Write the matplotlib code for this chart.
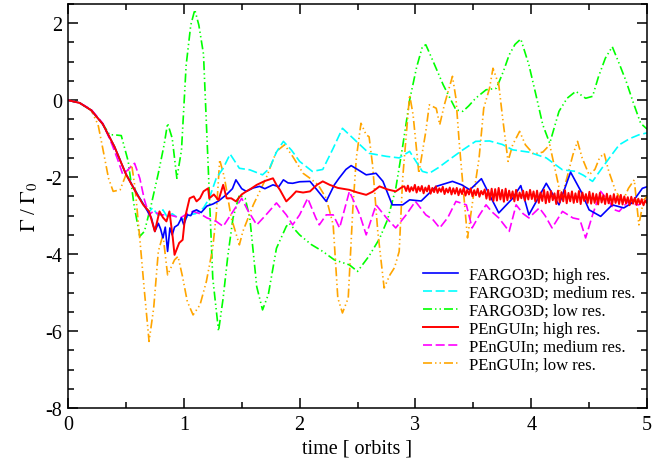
import numpy as np
import matplotlib
matplotlib.use("Agg")
import matplotlib.pyplot as plt
from matplotlib.ticker import MultipleLocator

plt.rcParams['font.family'] = ['Liberation Serif', 'DejaVu Serif']
plt.rcParams['mathtext.fontset'] = 'stix'
plt.rcParams['axes.unicode_minus'] = False
plt.rcParams['lines.scale_dashes'] = False

# ---------------- data ----------------
labels = ["FARGO3D; high res.", "FARGO3D; medium res.", "FARGO3D; low res.",
          "PEnGUIn; high res.", "PEnGUIn; medium res.", "PEnGUIn; low res."]

blue_t = [0.00, 0.10, 0.20, 0.30, 0.40, 0.50, 0.60, 0.65, 0.70, 0.72,
          0.75, 0.78, 0.80, 0.82, 0.84, 0.86, 0.88, 0.90, 0.92, 0.95,
          0.98, 1.00, 1.03, 1.06, 1.08, 1.11, 1.15, 1.20, 1.25, 1.30,
          1.37, 1.42, 1.45, 1.50, 1.54, 1.60, 1.655, 1.70, 1.77, 1.82,
          1.86, 1.90, 1.94, 2.00, 2.09, 2.15, 2.23, 2.30, 2.34, 2.40,
          2.445, 2.50, 2.575, 2.66, 2.72, 2.80, 2.89, 2.95, 3.05, 3.18,
          3.32, 3.40, 3.47, 3.57, 3.64, 3.72, 3.84, 3.91, 3.98, 4.05,
          4.13, 4.24, 4.34, 4.43, 4.50, 4.60, 4.70, 4.80, 4.87, 4.96,
          5.00]
blue_v = [0.00, -0.07, -0.26, -0.62, -1.20, -1.92, -2.45, -2.70, -2.95, -3.06,
          -3.41, -3.20, -3.35, -3.58, -3.30, -3.93, -3.32, -3.50, -3.30, -3.24,
          -3.06, -3.24, -2.98, -3.00, -2.89, -2.85, -2.92, -2.75, -2.70, -2.62,
          -2.45, -2.30, -2.07, -2.30, -2.37, -2.28, -2.24, -2.30, -2.20, -2.25,
          -2.07, -2.15, -2.16, -2.12, -2.11, -2.33, -2.63, -2.20, -2.03, -1.80,
          -1.70, -1.80, -1.94, -1.90, -2.11, -2.72, -2.72, -2.59, -2.62, -2.24,
          -2.11, -2.20, -2.33, -2.04, -2.46, -2.93, -2.55, -2.22, -2.98, -2.60,
          -2.16, -2.72, -1.87, -2.37, -2.85, -3.02, -2.72, -2.80, -2.67, -2.29,
          -2.25]

cyan_t = [0.00, 0.10, 0.20, 0.30, 0.40, 0.50, 0.60, 0.65, 0.70, 0.73,
          0.78, 0.82, 0.86, 0.90, 0.95, 1.00, 1.05, 1.10, 1.17, 1.22,
          1.28, 1.34, 1.40, 1.48, 1.57, 1.68, 1.74, 1.80, 1.86, 1.93,
          2.00, 2.11, 2.20, 2.29, 2.37, 2.49, 2.60, 2.75, 2.86, 2.95,
          3.06, 3.12, 3.20, 3.29, 3.41, 3.52, 3.64, 3.75, 3.84, 3.98,
          4.13, 4.27, 4.385, 4.45, 4.53, 4.61, 4.70, 4.76, 4.85, 4.93,
          5.00]
cyan_v = [0.00, -0.07, -0.26, -0.62, -1.20, -1.92, -2.45, -2.70, -2.90, -2.80,
          -3.00, -2.85, -3.05, -2.95, -3.06, -3.10, -2.98, -2.95, -2.80, -2.55,
          -2.03, -1.77, -1.40, -1.77, -1.81, -1.94, -1.77, -1.35, -1.07, -1.30,
          -1.59, -1.85, -1.80, -1.25, -0.73, -1.07, -1.38, -1.46, -1.50, -1.33,
          -1.85, -1.90, -1.75, -1.55, -1.29, -1.07, -1.06, -1.15, -1.29, -1.35,
          -1.50, -1.81, -1.85, -1.95, -2.11, -1.77, -1.40, -1.16, -1.00, -0.90,
          -0.85]

green_t = [0.00, 0.10, 0.20, 0.30, 0.36, 0.40, 0.46, 0.52, 0.57, 0.62,
           0.66, 0.72, 0.78, 0.83, 0.86, 0.90, 0.94, 0.98, 1.02, 1.06,
           1.095, 1.13, 1.17, 1.21, 1.25, 1.30, 1.34, 1.38, 1.425, 1.48,
           1.53, 1.57, 1.63, 1.68, 1.73, 1.80, 1.885, 1.91, 2.00, 2.10,
           2.20, 2.30, 2.43, 2.50, 2.60, 2.69, 2.76, 2.83, 2.89, 2.95,
           3.01, 3.06, 3.09, 3.14, 3.24, 3.35, 3.41, 3.46, 3.52, 3.61,
           3.70, 3.76, 3.81, 3.86, 3.91, 3.98, 4.04, 4.10, 4.16, 4.24,
           4.31, 4.385, 4.47, 4.53, 4.58, 4.64, 4.70, 4.76, 4.82, 4.88,
           4.945, 5.00]
green_v = [0.00, -0.07, -0.26, -0.62, -0.90, -0.90, -0.92, -1.59, -2.72, -3.54,
           -3.41, -2.70, -1.90, -1.16, -0.60, -0.99, -2.03, -1.30, 0.90, 1.95,
           2.35, 1.95, 1.20, -1.68, -4.62, -6.00, -5.14, -4.05, -3.06, -2.46,
           -2.55, -3.06, -4.85, -5.45, -5.05, -3.85, -3.28, -3.20, -3.50, -3.75,
           -3.93, -4.15, -4.28, -4.45, -4.05, -3.60, -3.10, -2.30, -1.20, 0.00,
           0.85, 1.39, 1.44, 1.10, 0.40, -0.25, -0.29, -0.15, 0.05, 0.27,
           0.31, 0.75, 1.18, 1.45, 1.59, 0.92, 0.15, -0.64, -1.12, -0.29,
           0.05, 0.23, 0.05, 0.10, 0.60, 1.09, 1.39, 0.95, 0.49, -0.05,
           -0.60, -0.75]

red_t = [0.00, 0.10, 0.20, 0.30, 0.40, 0.50, 0.60, 0.65, 0.70, 0.75,
         0.79, 0.82, 0.85, 0.876, 0.905, 0.92, 0.96, 0.99, 1.01, 1.05,
         1.086, 1.11, 1.14, 1.17, 1.21, 1.22, 1.26, 1.30, 1.34, 1.37,
         1.41, 1.45, 1.50, 1.54, 1.58, 1.63, 1.70, 1.77, 1.80, 1.83,
         1.885, 1.93, 1.97, 2.03, 2.09, 2.15, 2.20, 2.26, 2.33, 2.43,
         2.50, 2.575, 2.63, 2.69, 2.76, 2.83, 2.89]
red_v = [0.00, -0.07, -0.26, -0.62, -1.20, -1.92, -2.47, -2.72, -2.89, -3.41,
         -2.89, -3.05, -3.15, -2.89, -3.58, -4.02, -3.71, -3.63, -3.06, -2.55,
         -2.50, -2.63, -2.55, -2.37, -2.29, -2.55, -2.45, -2.60, -2.20, -2.55,
         -2.55, -2.63, -2.45, -2.37, -2.30, -2.20, -2.10, -2.03, -2.20, -2.33,
         -2.63, -2.50, -2.37, -2.40, -2.37, -2.20, -2.11, -2.20, -2.28, -2.33,
         -2.40, -2.46, -2.38, -2.24, -2.32, -2.37, -2.25]
# rapidly oscillating tail of the high-res PEnGUIn run (t = 2.905 ... 5.0)
red_tail_v = [-2.24, -2.36, -2.22, -2.38, -2.26, -2.35, -2.20, -2.40, -2.25, -2.36,
              -2.23, -2.42, -2.27, -2.37, -2.22, -2.43, -2.28, -2.39, -2.24, -2.41,
              -2.29, -2.38, -2.25, -2.44, -2.30, -2.40, -2.27,
              -2.45, -2.29, -2.43, -2.28, -2.47, -2.31, -2.44, -2.27, -2.48, -2.33,
              -2.45, -2.29, -2.50, -2.34, -2.47, -2.30, -2.51, -2.36, -2.45, -2.32,
              -2.56, -2.33, -2.59, -2.30, -2.62, -2.31, -2.61, -2.28, -2.58, -2.33,
              -2.64, -2.30, -2.60, -2.35, -2.56, -2.37, -2.63, -2.33, -2.60, -2.40,
              -2.55, -2.35, -2.61, -2.38, -2.58, -2.33, -2.57,
              -2.37, -2.63, -2.35, -2.67, -2.40, -2.62, -2.33, -2.68, -2.38, -2.65,
              -2.36, -2.60, -2.42, -2.70, -2.35, -2.66, -2.39, -2.63, -2.34, -2.68,
              -2.41, -2.63, -2.37, -2.67, -2.42, -2.65, -2.36, -2.70, -2.40, -2.62,
              -2.44, -2.67, -2.38,
              -2.69, -2.42, -2.67, -2.44, -2.71, -2.41, -2.66, -2.47, -2.70, -2.43,
              -2.68, -2.48, -2.72, -2.44, -2.67, -2.49, -2.70, -2.46, -2.71, -2.50,
              -2.68, -2.52, -2.73, -2.51, -2.69, -2.54, -2.72, -2.56, -2.70, -2.57,
              -2.73, -2.61, -2.67]
red_tail_start, red_tail_end = 2.905, 5.0

mag_t = [0.00, 0.10, 0.20, 0.30, 0.38, 0.43, 0.474, 0.52, 0.575, 0.62,
         0.66, 0.70, 0.735, 0.80, 0.85, 0.90, 0.97, 1.03, 1.08, 1.14,
         1.20, 1.28, 1.34, 1.425, 1.50, 1.55, 1.63, 1.71, 1.80, 1.885,
         1.94, 2.00, 2.07, 2.14, 2.17, 2.23, 2.29, 2.345, 2.43, 2.52,
         2.575, 2.66, 2.75, 2.83, 2.92, 3.00, 3.09, 3.15, 3.21, 3.28,
         3.35, 3.44, 3.49, 3.55, 3.61, 3.66, 3.72, 3.81, 3.87, 3.93,
         3.98, 4.07, 4.12, 4.18, 4.27, 4.36, 4.42, 4.47, 4.53, 4.60,
         4.67, 4.72, 4.76, 4.80, 4.84, 4.88, 4.93, 4.97, 5.00]
mag_v = [0.00, -0.07, -0.24, -0.60, -1.15, -1.55, -1.94, -1.80, -1.64, -2.03,
         -2.59, -2.98, -2.89, -2.98, -2.98, -3.00, -3.06, -2.95, -2.89, -2.95,
         -3.06, -3.15, -3.28, -2.89, -2.55, -2.85, -3.24, -2.98, -2.67, -2.98,
         -3.24, -2.98, -2.55, -3.06, -3.24, -2.98, -2.98, -3.32, -2.37, -2.98,
         -3.50, -2.72, -3.06, -3.32, -2.98, -2.63, -2.98, -3.10, -3.32, -3.05,
         -2.63, -2.72, -3.32, -3.00, -2.72, -2.90, -3.06, -3.41, -2.72, -2.95,
         -3.06, -2.80, -3.00, -3.32, -2.89, -3.06, -3.10, -3.58, -2.98, -2.37,
         -2.63, -2.85, -2.89, -2.75, -2.63, -2.70, -2.72, -2.60, -2.60]

orange_t = [0.00, 0.10, 0.20, 0.26, 0.30, 0.35, 0.39, 0.45, 0.50, 0.55,
            0.58, 0.62, 0.66, 0.70, 0.74, 0.78, 0.82, 0.86, 0.92, 0.95,
            0.99, 1.03, 1.08, 1.14, 1.195, 1.25, 1.28, 1.31, 1.35, 1.41,
            1.48, 1.51, 1.60, 1.71, 1.80, 1.87, 1.94, 2.03, 2.09, 2.16,
            2.23, 2.29, 2.33, 2.37, 2.42, 2.46, 2.49, 2.53, 2.575, 2.60,
            2.63, 2.675, 2.73, 2.78, 2.82, 2.86, 2.89, 2.95, 2.98, 3.03,
            3.09, 3.12, 3.18, 3.21, 3.25, 3.32, 3.35, 3.38, 3.45, 3.49,
            3.55, 3.59, 3.64, 3.67, 3.72, 3.75, 3.80, 3.84, 3.90, 3.95,
            4.02, 4.10, 4.16, 4.21, 4.26, 4.31, 4.36, 4.40, 4.44, 4.50,
            4.55, 4.59, 4.63, 4.67, 4.73, 4.79, 4.84, 4.89, 4.93, 4.97,
            5.00]
orange_v = [0.00, -0.07, -0.26, -0.64, -1.25, -2.03, -2.37, -2.33, -1.94, -1.68,
            -2.30, -3.60, -4.97, -6.27, -5.40, -3.93, -3.50, -4.54, -4.15, -4.06,
            -4.60, -5.23, -5.58, -5.32, -4.71, -3.84, -2.98, -1.55, -2.00, -3.06,
            -3.76, -3.41, -2.72, -2.03, -1.33, -1.16, -1.46, -1.90, -2.03, -2.20,
            -2.55, -3.24, -5.14, -5.53, -5.14, -2.80, -1.50, -0.60, -0.90, -0.95,
            -1.68, -3.41, -4.88, -4.54, -4.35, -3.93, -2.03, 0.14, -0.38, -1.90,
            -0.81, -0.12, -0.21, -0.64, -0.12, 0.62, 0.05, -1.16, -3.58, -2.72,
            -1.50, -0.21, 0.31, 0.83, 0.40, -0.38, -1.59, -1.16, -0.81, -1.16,
            -1.40, -1.35, -1.16, -1.85, -2.55, -2.00, -1.42, -1.07, -1.50, -1.94,
            -1.80, -1.50, -1.38, -1.85, -2.37, -2.63, -2.29, -2.07, -3.24, -2.60,
            -2.50]

x_ticks = [0, 1, 2, 3, 4, 5]
y_ticks = [-8, -6, -4, -2, 0, 2]

# ---------------- figure ----------------
fig = plt.figure(figsize=(6.52, 4.64), dpi=100)
ax = fig.add_axes([68 / 652, 1 - 409 / 464, 579 / 652, 404 / 464])

dashed = (0, (6.5, 2.6))
dashdotdot = (0, (6.5, 2.2, 1.0, 2.2, 1.0, 2.2))

red_all_t = list(red_t) + list(np.linspace(red_tail_start, red_tail_end, len(red_tail_v)))
red_all_v = list(red_v) + list(red_tail_v)

l3, = ax.plot(green_t, green_v, color='#00ff00', lw=1.2, ls=dashdotdot, label=labels[2])
l6, = ax.plot(orange_t, orange_v, color='#ffa500', lw=1.2, ls=dashdotdot, label=labels[5])
l2, = ax.plot(cyan_t, cyan_v, color='#00ffff', lw=1.2, ls=dashed, label=labels[1])
l5, = ax.plot(mag_t, mag_v, color='#ff00ff', lw=1.2, ls=dashed, label=labels[4])
l1, = ax.plot(blue_t, blue_v, color='#0000ff', lw=1.2, ls='-', label=labels[0])
l4, = ax.plot(red_all_t, red_all_v, color='#ff0000', lw=1.4, ls='-', label=labels[3])

ax.set_xlim(0, 5)
ax.set_ylim(-8, 2.5)
ax.set_xticks(x_ticks)
ax.set_yticks(y_ticks)
ax.xaxis.set_minor_locator(MultipleLocator(0.5))
ax.yaxis.set_minor_locator(MultipleLocator(0.5))
ax.tick_params(which='both', direction='in', top=True, right=True, width=1.1,
               labelsize=14.5)
ax.tick_params(which='major', length=7.5)
ax.tick_params(which='minor', length=4.3)
ax.tick_params(axis='y', which='major', pad=4)
ax.tick_params(axis='x', which='major', pad=5)
for s in ax.spines.values():
    s.set_linewidth(1.1)

ax.set_xlabel('time [ orbits ]', fontsize=14.5, labelpad=3)
ax.set_ylabel(r'$\Gamma$ / $\Gamma_0$', fontsize=15, labelpad=4)

leg = ax.legend(handles=[l1, l2, l3, l4, l5, l6], loc='upper left',
                bbox_to_anchor=(0.613, 0.35), frameon=False, fontsize=12,
                handlelength=2.1, handletextpad=0.65, labelspacing=0.12,
                borderpad=0, borderaxespad=0)

fig.savefig('out.png', dpi=100)
